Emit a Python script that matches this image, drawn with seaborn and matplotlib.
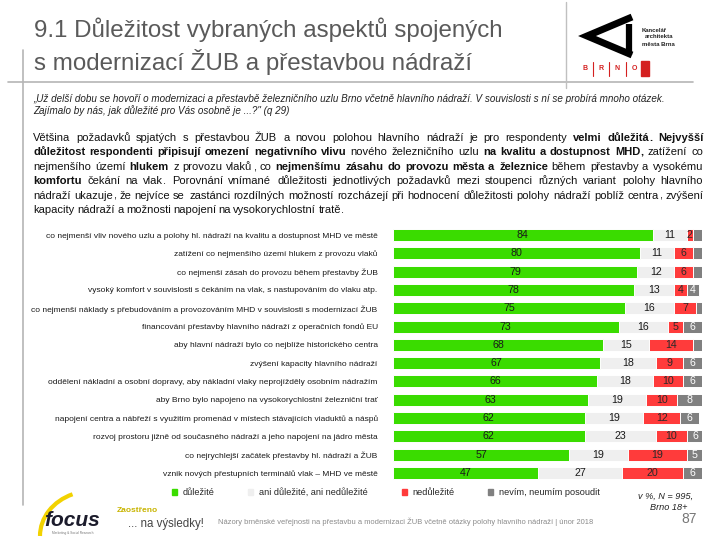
import matplotlib
matplotlib.use("Agg")
import matplotlib.pyplot as plt
import seaborn as sns
import pandas as pd
import numpy as np
from matplotlib.patches import Rectangle, Arc
from matplotlib.font_manager import FontProperties

# ---------------- data ----------------
categories = [
    "co nejmenší vliv nového uzlu a polohy hl. nádraží na kvalitu a dostupnost MHD ve městě",
    "zatížení co nejmenšího území hlukem z provozu vlaků",
    "co nejmenší zásah do provozu během přestavby ŽUB",
    "vysoký komfort v souvislosti s čekáním na vlak, s nastupováním do vlaku atp.",
    "co nejmenší náklady s přebudováním a provozováním MHD v souvislosti s modernizací ŽUB",
    "financování přestavby hlavního nádraží z operačních fondů EU",
    "aby hlavní nádraží bylo co nejblíže historického centra",
    "zvýšení kapacity hlavního nádraží",
    "oddělení nákladní a osobní dopravy, aby nákladní vlaky neprojížděly osobním nádražím",
    "aby Brno bylo napojeno na vysokorychlostní železniční trať",
    "napojení centra a nábřeží s využitím promenád v místech stávajících viaduktů a náspů",
    "rozvoj prostoru jižně od současného nádraží a jeho napojení na jádro města",
    "co nejrychlejší začátek přestavby hl. nádraží a ŽUB",
    "vznik nových přestupních terminálů vlak – MHD ve městě",
]
important = [84, 80, 79, 78, 75, 73, 68, 67, 66, 63, 62, 62, 57, 47]
neutral = [11, 11, 12, 13, 16, 16, 15, 18, 18, 19, 19, 23, 19, 27]
unimportant = [2, 6, 6, 4, 7, 5, 14, 9, 10, 10, 12, 10, 19, 20]
dontknow = [3, 3, 3, 4, 2, 6, 3, 6, 6, 8, 6, 6, 5, 6]
series_names = ["důležité", "ani důležité, ani nedůležité", "nedůležité", "nevím, neumím posoudit"]
series_colors = ["#3ADC00", "#EFEFEF", "#FF3B3B", "#808080"]
label_colors = ["#1a1a1a", "#1a1a1a", "#2a2a2a", "#ffffff"]

title_lines = ["9.1 Důležitost vybraných aspektů spojených",
               "s modernizací ŽUB a přestavbou nádraží"]
quote_lines = ["„Už delší dobu se hovoří o modernizaci a přestavbě železničního uzlu Brno včetně hlavního nádraží. V souvislosti s ní se probírá mnoho otázek.",
               "Zajímalo by nás, jak důležité pro Vás osobně je ...?\" (q 29)"]
para_lines = [
    "Většina požadavků spjatých s přestavbou ŽUB a novou polohou hlavního nádraží je pro respondenty **velmi důležitá.** **Nejvyšší**",
    "**důležitost respondenti připisují omezení negativního vlivu** nového železničního uzlu **na kvalitu a dostupnost MHD,** zatížení co",
    "nejmenšího území **hlukem** z provozu vlaků, co **nejmenšímu zásahu do provozu města a železnice** během přestavby a vysokému",
    "**komfortu** čekání na vlak. Porovnání vnímané důležitosti jednotlivých požadavků mezi stoupenci různých variant polohy hlavního",
    "nádraží ukazuje, že nejvíce se zastánci rozdílných možností rozcházejí při hodnocení důležitosti polohy nádraží poblíž centra, zvýšení",
    "kapacity nádraží a možnosti napojení na vysokorychlostní tratě.",
]
note_lines = ["v %, N = 995,", "Brno 18+"]
footer_text = "Názory brněnské veřejnosti na přestavbu a modernizaci ŽUB včetně otázky polohy hlavního nádraží | únor 2018"
page_no = "87"

# ---------------- setup ----------------
sns.set_theme(style="white")
plt.rcParams['font.family'] = 'Liberation Sans'

fig = plt.figure(figsize=(7.2, 5.4), dpi=100)
W, H = 720, 540

# background overlay axes in pixel coordinates
bg = fig.add_axes([0, 0, 1, 1], zorder=-1)
bg.set_xlim(0, W)
bg.set_ylim(H, 0)
bg.axis("off")

# frame lines
bg.plot([8, 693], [82, 82], color="#b5b5b5", lw=1.2)
bg.plot([23, 23], [50, 505], color="#b5b5b5", lw=1.2)
bg.plot([566, 566], [2, 88], color="#c0c0c0", lw=1.0)

# title
for i, t in enumerate(title_lines):
    bg.text(34, 30 + i * 32, t, fontsize=17.4, color="#5a5a5a", va="center", ha="left")

# logo (Kancelář architekta města Brna)
bg.plot([632, 587, 632], [17, 36, 55], color="black", lw=5, solid_joinstyle="miter", solid_capstyle="butt")
bg.plot([629, 629], [24, 55], color="black", lw=4.5, solid_capstyle="butt")
for i, t in enumerate(["Kancelář", "architekta", "města Brna"]):
    bg.text(642 + (3 if i == 1 else 0), 30 + i * 7, t, fontsize=4.3, fontweight="bold", color="#222", va="center")
for x, ch in zip([585, 601, 617, 634], "BRNO"):
    bg.text(x, 69, ch, fontsize=5, fontweight="bold", color="#d42020", va="center", ha="center")
for x in [593, 609, 626]:
    bg.plot([x, x], [62, 76], color="#d42020", lw=0.8)
bg.add_patch(Rectangle((641, 61), 8, 15, color="#d42020"))

# quote
for i, t in enumerate(quote_lines):
    bg.text(33, 102 + i * 12, t, fontsize=7.1, style="italic", color="#222", va="baseline", ha="left")

# justified paragraph: measure with the renderer, then place each word once
renderer = fig.canvas.get_renderer()
fp_reg = FontProperties(family="Liberation Sans", size=8, weight="normal")
fp_bold = FontProperties(family="Liberation Sans", size=8, weight="bold")


def measure(s, fp):
    return renderer.get_text_width_height_descent(s, fp, ismath=False)[0]


x0p, x1p = 33, 703
y0p, dyp = 137, 14.4
for li, line in enumerate(para_lines):
    y = int(round(y0p + li * dyp + 4))
    words = []
    bold = False
    for w in line.split(" "):
        if w.startswith("**"):
            bold = True
        words.append((w.replace("**", ""), bold))
        if w.endswith("**"):
            bold = False
    widths = [measure(w, fp_bold if b else fp_reg) for w, b in words]
    justify = li < len(para_lines) - 1
    gap = (x1p - x0p - sum(widths)) / (len(words) - 1) if justify else 2.5
    x = x0p
    for (w, b), wd in zip(words, widths):
        fp = fp_bold if b else fp_reg
        if len(w) > 1 and w[-1] in ",.":
            core, punct = w[:-1], w[-1]
            cw = measure(core, fp)
            bg.text(round(x), y, core, fontproperties=fp, color="#111", va="baseline", ha="left")
            bg.text(round(x + cw), y, punct, fontproperties=fp, color="#111", va="baseline", ha="left")
        else:
            bg.text(round(x), y, w, fontproperties=fp, color="#111", va="baseline", ha="left")
        x += wd + gap

# ---------------- chart ----------------
ax = fig.add_axes([393 / W, 1 - 482 / H, (702 - 393) / W, (482 - 226) / H])
vals = np.array([important, neutral, unimportant, dontknow])
cums = np.cumsum(vals, axis=0)
df = pd.DataFrame({"category": categories})
for i in range(4):
    df[f"cum{i}"] = cums[i]
for i in reversed(range(4)):
    sns.barplot(data=df, x=f"cum{i}", y="category", orient="h", color=series_colors[i],
                saturation=1, width=0.66, errorbar=None, ax=ax,
                edgecolor="white", linewidth=0.7)

for j in range(len(categories)):
    for i in range(4):
        v = vals[i][j]
        if i == 3 and v < 4:
            continue
        c = cums[i][j] - v / 2
        ax.text(c, j, str(v), ha="center", va="center", fontsize=7.7, color=label_colors[i])

ax.set_xlim(0, 100)
ax.set_ylim(len(categories) - 0.5, -0.5)
ax.set_xticks([])
ax.set_xlabel("")
ax.set_ylabel("")
ax.tick_params(axis="y", length=0, pad=11, labelsize=6.05, labelcolor="#1a1a1a")
sns.despine(ax=ax, left=True, bottom=True)

# legend
handles = [Rectangle((0, 0), 1, 1, color=c) for c in series_colors]
fig.legend(handles, series_names, loc="upper left", bbox_to_anchor=(172 / W, 1 - 488 / H),
           ncol=4, frameon=False, fontsize=6.6, handlelength=0.55, handleheight=0.55,
           handletextpad=0.6, columnspacing=3.7, borderpad=0, borderaxespad=0)

# note
bg.text(693, 496, note_lines[0], fontsize=6.6, style="italic", color="#222", ha="right", va="center")
bg.text(688, 508, note_lines[1], fontsize=6.6, style="italic", color="#222", ha="right", va="center")

# footer
bg.add_patch(Arc((92, 536), 104, 90, angle=0, theta1=180, theta2=245, color="#f2d200", lw=3))
bg.text(44, 520, "focus", fontsize=15, fontweight="bold", style="italic", color="#1c1c2c", va="center", ha="left")
bg.text(52, 533, "Marketing & Social Research", fontsize=2.3, color="#777", va="center", ha="left")
bg.text(117, 510, "Zaostřeno", fontsize=6, fontweight="bold", color="#c8b400", va="center", ha="left")
bg.text(128, 524, "... na výsledky!", fontsize=8.3, color="#444", va="center", ha="left")
bg.text(218, 522, footer_text, fontsize=5.4, color="#8a8a8a", va="center", ha="left")
bg.text(697, 519, page_no, fontsize=10, color="#777", va="center", ha="right")

fig.savefig("out.png", dpi=100)
